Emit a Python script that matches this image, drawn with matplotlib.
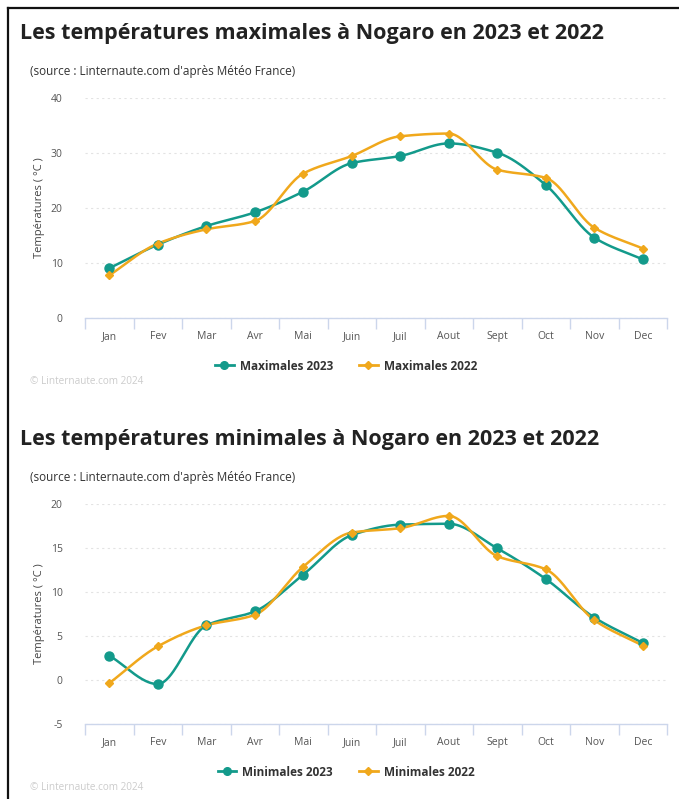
import numpy as np
import matplotlib
matplotlib.use("Agg")
import matplotlib.pyplot as plt
from matplotlib.lines import Line2D

months = ["Jan", "Fev", "Mar", "Avr", "Mai", "Juin", "Juil", "Aout", "Sept", "Oct", "Nov", "Dec"]
max_2023 = [9.0, 13.3, 16.7, 19.2, 23.0, 28.2, 29.5, 31.8, 30.1, 24.2, 14.6, 10.6]
max_2022 = [7.7, 13.5, 16.1, 17.6, 26.3, 29.5, 33.1, 33.6, 27.0, 25.5, 16.4, 12.6]
min_2023 = [2.75, -0.5, 6.2, 7.8, 12.0, 16.5, 17.7, 17.8, 15.0, 11.5, 7.1, 4.2]
min_2022 = [-0.4, 3.8, 6.2, 7.4, 12.9, 16.8, 17.3, 18.7, 14.1, 12.6, 6.8, 3.9]

TEAL = "#139a8b"
ORANGE = "#f0a81c"
FONT = ["Open Sans", "DejaVu Sans"]
plt.rcParams["font.family"] = FONT
plt.rcParams["axes.unicode_minus"] = False


def monotone(x, y, n=40):
    x = np.asarray(x, float)
    y = np.asarray(y, float)
    h = np.diff(x)
    d = np.diff(y) / h
    m = np.zeros_like(y)
    m[0], m[-1] = d[0], d[-1]
    for i in range(1, len(y) - 1):
        if d[i - 1] * d[i] <= 0:
            m[i] = 0
        else:
            m[i] = 2 / (1 / d[i - 1] + 1 / d[i])
    xs, ys = [], []
    for i in range(len(x) - 1):
        t = np.linspace(0, 1, n, endpoint=(i == len(x) - 2))
        h00 = 2 * t**3 - 3 * t**2 + 1
        h10 = t**3 - 2 * t**2 + t
        h01 = -2 * t**3 + 3 * t**2
        h11 = t**3 - t**2
        xs.append(x[i] + t * h[i])
        ys.append(h00 * y[i] + h10 * h[i] * m[i] + h01 * y[i + 1] + h11 * h[i] * m[i + 1])
    return np.concatenate(xs), np.concatenate(ys)


W, H = 679, 799
fig = plt.figure(figsize=(W / 100, H / 100), dpi=100)
fig.patch.set_facecolor("white")

# frame lines (left and top)
fig.add_artist(Line2D([8 / W, 8 / W], [0, 1 - 8 / H], color="#111111", lw=1.6))
fig.add_artist(Line2D([8 / W, 1], [1 - 8 / H, 1 - 8 / H], color="#111111", lw=1.6))


def panel(top_px, title, ylo, yhi, step, s23, s22, lab23, lab22):
    title_y = top_px
    fig.text(20 / W, 1 - title_y / H, title, fontsize=15.5, fontweight="bold",
             color="#222222", va="center", ha="left", family=FONT)
    fig.text(30 / W, 1 - (title_y + 39) / H, "(source : Linternaute.com d'après Météo France)",
             fontsize=8.5, color="#333333", va="center", ha="left")
    ax_top = title_y + 65.5
    ax_bot = title_y + 284.5
    ax = fig.add_axes([85 / W, 1 - ax_bot / H, 582 / W, (ax_bot - ax_top) / H])
    ax.set_xlim(-0.5, 11.5)
    ax.set_ylim(ylo, yhi)
    x = np.arange(12)
    for vals, col, mk, ms in [(s23, TEAL, "o", 6.5), (s22, ORANGE, "D", 4.5)]:
        xs, ys = monotone(x, vals)
        ax.plot(xs, ys, color=col, lw=1.8, zorder=3, solid_capstyle="round")
        ax.plot(x, vals, ls="none", marker=mk, ms=ms, color=col, zorder=4)
    ax.set_yticks(np.arange(ylo, yhi + 0.1, step))
    ax.yaxis.grid(True, color="#e3e3e3", lw=0.8, ls=(0, (2, 3)))
    ax.set_axisbelow(True)
    for s in ["top", "right", "left"]:
        ax.spines[s].set_visible(False)
    ax.spines["bottom"].set_color("#ccd6eb")
    ax.spines["bottom"].set_linewidth(1)
    ax.set_xticks(np.arange(-0.5, 12, 1))
    ax.set_xticklabels([])
    ax.tick_params(axis="x", length=8, color="#ccd6eb", width=1)
    ax.set_xticks(x, minor=True)
    ax.set_xticklabels(months, minor=True)
    ax.tick_params(axis="x", which="minor", length=0, pad=10, labelsize=7.5, labelcolor="#555555")
    ax.tick_params(axis="y", length=0, pad=16, labelsize=7.5, labelcolor="#555555")
    ax.set_ylabel("Températures ( °C )", fontsize=8, color="#444444", labelpad=4)
    h1 = Line2D([], [], color=TEAL, lw=2, marker="o", ms=5.5)
    h2 = Line2D([], [], color=ORANGE, lw=2, marker="D", ms=4)
    leg = fig.legend([h1, h2], [lab23, lab22], loc="center", ncol=2,
                     bbox_to_anchor=(346 / W, 1 - (title_y + 333) / H), frameon=False,
                     prop={"family": FONT, "weight": "bold", "size": 8.5},
                     handlelength=1.6, columnspacing=2.2, handletextpad=0.5)
    for t in leg.get_texts():
        t.set_color("#333333")
    fig.text(30 / W, 1 - (title_y + 349) / H, "© Linternaute.com 2024",
             fontsize=7.2, color="#cccccc", va="center", ha="left")
    return ax


panel(33, "Les températures maximales à Nogaro en 2023 et 2022", 0, 40, 10,
      max_2023, max_2022, "Maximales 2023", "Maximales 2022")
panel(439, "Les températures minimales à Nogaro en 2023 et 2022", -5, 20, 5,
      min_2023, min_2022, "Minimales 2023", "Minimales 2022")

fig.savefig("out.png", dpi=100, facecolor="white")
